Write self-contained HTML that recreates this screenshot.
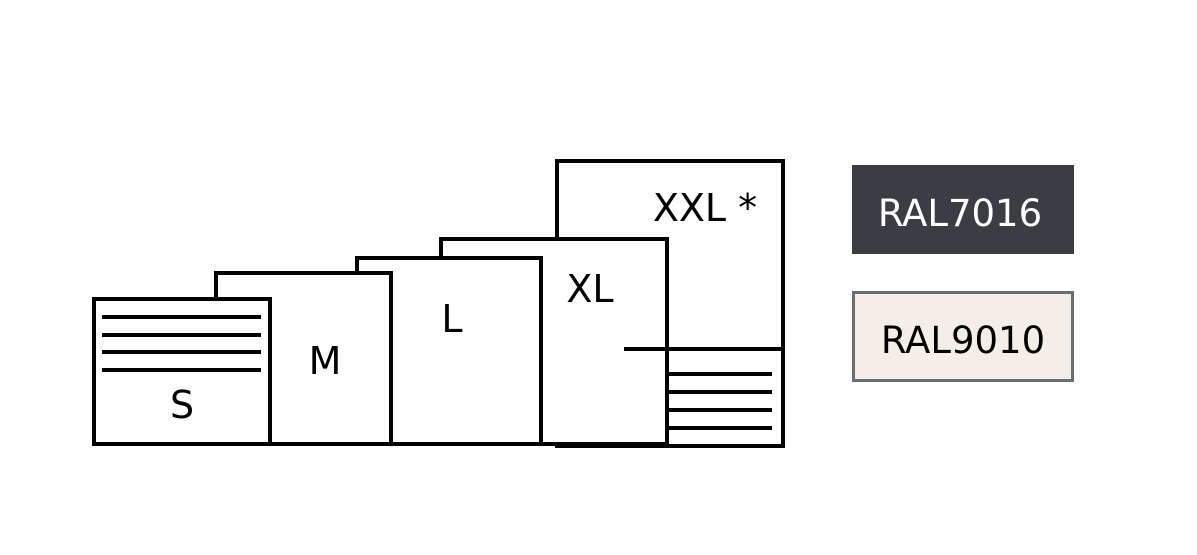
<!DOCTYPE html>
<html><head><meta charset="utf-8"><style>
html,body{margin:0;padding:0;background:#fff;}
svg{display:block;}
text{font-family:"DejaVu Sans","Liberation Sans",sans-serif;}
</style></head><body>
<svg width="1197" height="555" viewBox="0 0 1197 555" xmlns="http://www.w3.org/2000/svg">
<g fill="none" stroke="#000" stroke-width="4" stroke-linecap="square">
<!-- XXL -->
<polyline points="557,239 557,161 783,161 783,446 557,446"/>
<line x1="626" y1="349" x2="783" y2="349"/>
<line x1="667" y1="374" x2="770" y2="374"/>
<line x1="667" y1="392" x2="770" y2="392"/>
<line x1="667" y1="410" x2="770" y2="410"/>
<line x1="667" y1="428" x2="770" y2="428"/>
<!-- XL -->
<polyline points="441,258 441,239 667,239 667,444"/>
<!-- L -->
<polyline points="357,273 357,258 541,258 541,444"/>
<!-- M -->
<polyline points="216,299 216,273 391,273 391,444"/>
<!-- S -->
<polyline points="270,444 270,299 94,299 94,444"/>
<line x1="104" y1="317" x2="259" y2="317"/>
<line x1="104" y1="335" x2="259" y2="335"/>
<line x1="104" y1="352" x2="259" y2="352"/>
<line x1="104" y1="370" x2="259" y2="370"/>
<!-- bottom -->
<line x1="94" y1="444" x2="667" y2="444"/>
</g>
<g font-size="38" fill="#000" text-anchor="middle">
<text x="182" y="418">S</text>
<text x="325" y="374">M</text>
<text x="452" y="332">L</text>
<text x="590" y="302">XL</text>
<text x="705" y="221">XXL *</text>
</g>
<rect x="852" y="165" width="222" height="89" fill="#3a3d41"/>
<text x="960" y="226" font-size="37" fill="#fff" text-anchor="middle">RAL7016</text>
<rect x="853.5" y="292.5" width="219" height="88" fill="#f3efe7" stroke="#6b6e75" stroke-width="3"/>
<text x="963" y="353" font-size="37" fill="#000" text-anchor="middle">RAL9010</text>
</svg>
</body></html>
